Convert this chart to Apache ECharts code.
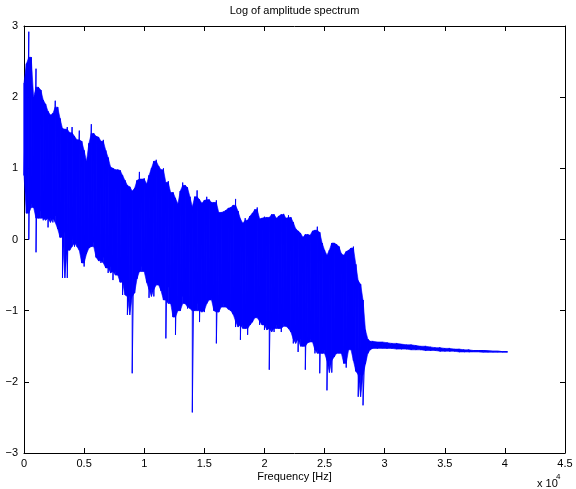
<!DOCTYPE html>
<html>
<head>
<meta charset="utf-8">
<script src="https://cdn.jsdelivr.net/npm/echarts@6/dist/echarts.min.js"></script>
<style>html,body{margin:0;padding:0;background:#fff;}#c{width:576px;height:489px;}</style>
</head>
<body>
<div id="c"></div>
<script>
// Frequency grid (Hz) for the dense band region
const bandStartHz = 0;
const bandStepHz = 200;
// Upper envelope (log amplitude)
const bandHi = [2.2,2.47,2.92,2.56,2.0,2.4,2.14,2.1,1.96,1.9,
 1.8,1.75,1.77,1.95,1.86,1.7,1.56,1.55,1.58,1.5,
 1.58,1.45,1.4,1.53,1.38,1.25,1.1,1.35,1.62,1.49,
 1.45,1.44,1.38,1.4,1.25,1.15,1.02,1.0,0.98,0.98,
 0.97,0.9,0.83,0.76,0.74,0.68,0.72,0.83,0.95,0.85,
 0.86,0.78,0.9,1.0,1.1,1.12,1.03,0.98,1.0,0.8,
 0.82,0.66,0.66,0.58,0.5,0.68,0.8,0.76,0.73,0.6,
 0.46,0.6,0.69,0.56,0.51,0.55,0.6,0.56,0.52,0.52,
 0.55,0.38,0.38,0.39,0.41,0.44,0.45,0.48,0.57,0.4,
 0.29,0.23,0.3,0.27,0.33,0.37,0.42,0.45,0.29,0.3,
 0.32,0.31,0.31,0.35,0.35,0.3,0.33,0.35,0.36,0.3,
 0.34,0.31,0.24,0.15,0.12,0.09,0.03,0.07,0.07,0.06,
 0.12,0.13,0.18,0.1,-0.05,-0.15,-0.22,-0.15,-0.05,-0.05,
 -0.07,-0.1,-0.2,-0.22,-0.17,-0.15,-0.12,-0.1,-0.35,-0.58,
 -0.63,-0.85,-1.27,-1.4,-1.43];
// Lower envelope including the deep downward spikes
const bandLo = [0.9,0.37,0.0,0.5,0.45,-0.18,0.3,0.4,0.27,0.3,
 0.17,0.3,0.24,0.33,0.15,0.03,-0.54,0.1,-0.54,-0.15,
 0.0,-0.1,-0.05,-0.15,-0.33,-0.38,-0.2,-0.12,-0.1,-0.04,
 -0.25,-0.3,-0.33,-0.25,-0.4,-0.47,-0.38,-0.57,-0.45,-0.5,
 -0.6,-0.78,-0.6,-1.06,-0.8,-1.88,-0.75,-0.55,-0.45,-0.38,
 -0.45,-0.6,-0.82,-0.7,-0.8,-0.62,-0.64,-0.72,-0.85,-1.39,
 -0.67,-0.9,-1.09,-1.34,-1.0,-1.0,-0.8,-0.9,-0.97,-0.95,
 -2.43,-1.0,-0.9,-1.16,-1.0,-1.02,-0.9,-0.85,-0.83,-1.0,
 -1.46,-1.02,-0.95,-0.9,-0.95,-0.98,-1.0,-1.05,-1.23,-1.15,
 -1.41,-1.2,-1.25,-1.34,-1.2,-1.16,-1.1,-1.09,-1.2,-1.15,
 -1.27,-1.2,-1.83,-1.25,-1.3,-1.2,-1.25,-1.3,-1.18,-1.22,
 -1.25,-1.3,-1.46,-1.4,-1.58,-1.4,-1.5,-1.83,-1.45,-1.4,
 -1.44,-1.6,-1.55,-1.88,-1.6,-1.55,-2.12,-1.7,-1.87,-1.65,
 -1.6,-1.58,-1.6,-1.74,-1.8,-1.55,-1.5,-1.7,-1.85,-2.21,
 -1.9,-2.33,-1.75,-1.6,-1.55];
// Flat tail beyond the cutoff
const tailStartHz = 29000;
const tailStepHz = 400;
const tailHi = [-1.43,-1.44,-1.44,-1.45,-1.46,-1.46,-1.47,-1.48,-1.48,-1.49,
 -1.50,-1.50,-1.51,-1.52,-1.52,-1.53,-1.53,-1.54,-1.54,-1.55,
 -1.55,-1.56,-1.56,-1.56,-1.565,-1.57,-1.57,-1.575,-1.575];
const tailLo = [-1.53,-1.53,-1.52,-1.53,-1.53,-1.54,-1.54,-1.54,-1.55,-1.55,
 -1.55,-1.56,-1.56,-1.56,-1.57,-1.57,-1.57,-1.57,-1.58,-1.58,
 -1.58,-1.58,-1.58,-1.585,-1.585,-1.585,-1.585,-1.585,-1.585];
// Axis ticks
const xTicksHz = [0,5000,10000,15000,20000,25000,30000,35000,40000,45000];
const yTicks = [-3,-2,-1,0,1,2,3];

// Assemble frequency / envelope lists
const allF = [], allHi = [], allLo = [];
function addSeg(start, step, hi, lo){
  for (let i = 0; i < hi.length; i++){
    allF.push(start + i*step); allHi.push(hi[i]); allLo.push(lo[i]);
  }
}
addSeg(bandStartHz, bandStepHz, bandHi, bandLo);
addSeg(tailStartHz, tailStepHz, tailHi, tailLo);

// Zigzag trace (hi -> lo at each frequency)
const trace = [];
for (let i = 0; i < allF.length; i++){ trace.push([allF[i], allHi[i]]); trace.push([allF[i], allLo[i]]); }
// Solid body of the band: bounds without isolated spikes (median of neighbours)
function med3(arr, i){
  if (i === 0 || i === arr.length - 1) return arr[i];
  const a = [arr[i-1], arr[i], arr[i+1]].sort((p, q) => p - q);
  return a[1];
}
const ceilV = allHi.map((v, i) => Math.min(v, med3(allHi, i)));
const floorV = allLo.map((v, i) => Math.min(med3(allLo, i), ceilV[i]));
const bodyData = [];
for (let i = 0; i < allF.length - 1; i++){
  bodyData.push([allF[i], ceilV[i], floorV[i], allF[i+1], ceilV[i+1], floorV[i+1]]);
}

const font = 'Liberation Sans, Arial, Helvetica, sans-serif';
const chart = echarts.init(document.getElementById('c'), null, {renderer:'canvas'});
const axCommon = {
  axisLine:{show:true, onZero:false, lineStyle:{color:'#000', width:1}},
  axisTick:{show:true, inside:true, length:5, lineStyle:{color:'#000', width:1}},
  splitLine:{show:false}
};
chart.setOption({
  animation:false,
  backgroundColor:'#fff',
  grid:{left:24, right:11, top:26, bottom:36, containLabel:false},
  xAxis:[
    Object.assign({type:'value', min:xTicksHz[0], max:xTicksHz[xTicksHz.length-1], interval:5000, position:'bottom',
      axisLabel:{color:'#000', fontSize:11, fontFamily:font, margin:5, showMinLabel:true, showMaxLabel:true,
        formatter:v=>String(v/1e4)}}, axCommon),
    Object.assign({type:'value', min:xTicksHz[0], max:xTicksHz[xTicksHz.length-1], interval:5000, position:'top',
      axisLabel:{show:false}}, axCommon)
  ],
  yAxis:[
    Object.assign({type:'value', min:yTicks[0], max:yTicks[yTicks.length-1], interval:1, position:'left',
      axisLabel:{color:'#000', fontSize:11, fontFamily:font, margin:6,
        formatter:v=>String(v).replace('-', '\u2212')}}, axCommon),
    Object.assign({type:'value', min:yTicks[0], max:yTicks[yTicks.length-1], interval:1, position:'right',
      axisLabel:{show:false}}, axCommon)
  ],
  series:[
    {type:'custom', data:bodyData, silent:true, z:1,
      encode:{x:[0,3], y:[1,2,4,5]},
      renderItem:function(params, api){
        const p0t = api.coord([api.value(0), api.value(1)]);
        const p1t = api.coord([api.value(3), api.value(4)]);
        const p1b = api.coord([api.value(3), api.value(5)]);
        const p0b = api.coord([api.value(0), api.value(2)]);
        return {type:'polygon', shape:{points:[p0t, p1t, p1b, p0b]},
          style:{fill:'#0000ff', stroke:'#0000ff', lineWidth:0.6}};
      }},
    {type:'line', data:trace, showSymbol:false, symbol:'none', sampling:null, smooth:false,
      lineStyle:{color:'#0000ff', width:1}, emphasis:{disabled:true}, z:2}
  ],
  graphic:[
    {type:'text', x:294.5, y:5, style:{text:'Log of amplitude spectrum', fill:'#000', font:'11px '+font, textAlign:'center'}},
    {type:'text', x:294.5, y:471, style:{text:'Frequency [Hz]', fill:'#000', font:'11px '+font, textAlign:'center'}},
    {type:'text', x:537, y:478, style:{text:'x 10', fill:'#000', font:'11px '+font, textAlign:'left'}},
    {type:'text', x:556, y:473, style:{text:'4', fill:'#000', font:'8px '+font, textAlign:'left'}}
  ]
});
</script>
</body>
</html>
